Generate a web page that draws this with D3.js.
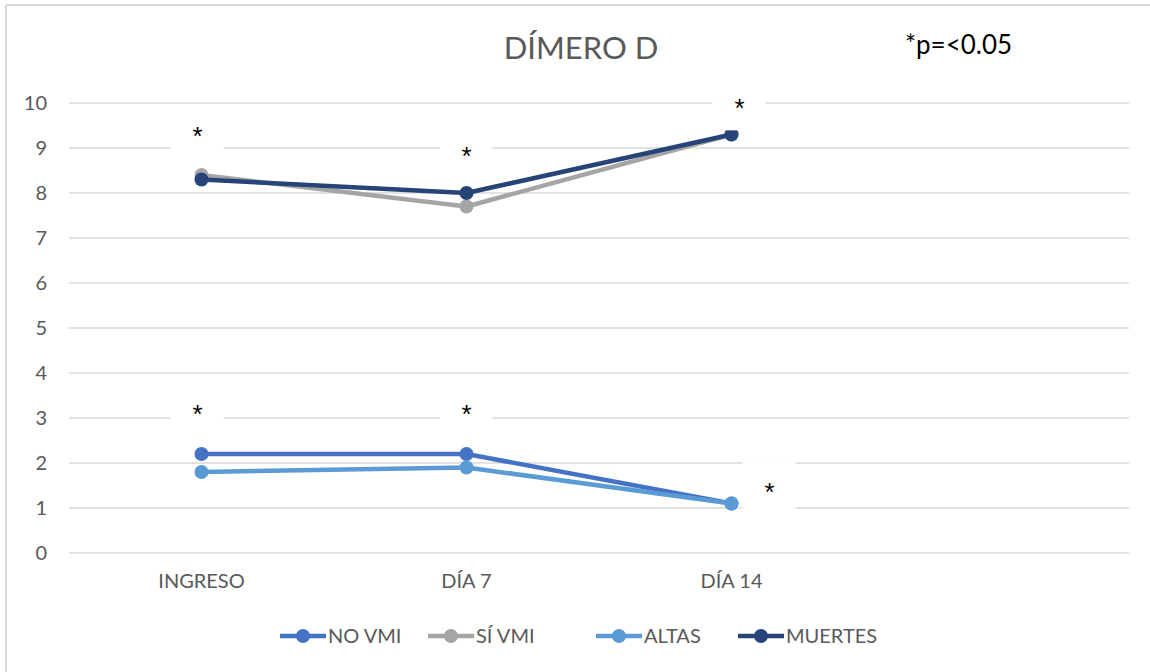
<!DOCTYPE html>
<html>
<head>
<meta charset="utf-8">
<script src="https://cdn.jsdelivr.net/npm/d3@7"></script>
<style>
  html, body { margin: 0; padding: 0; background: #fff; }
  svg { display: block; font-family: "Lato", "Liberation Sans", sans-serif; }
</style>
</head>
<body>
<svg id="chart" width="1150" height="672"></svg>
<script>
// ---- data ----
const categories = ["INGRESO", "DÍA 7", "DÍA 14", ""];
const seriesNames = ["NO VMI", "SÍ VMI", "ALTAS", "MUERTES"];
const noVmi   = [2.2, 2.2, 1.1];
const siVmi   = [8.4, 7.7, 9.3];
const altas   = [1.8, 1.9, 1.1];
const muertes = [8.3, 8.0, 9.3];
const seriesColors = ["#4472C4", "#A5A5A5", "#5B9BD5", "#264478"];
const yTicks = [0, 1, 2, 3, 4, 5, 6, 7, 8, 9, 10];
// significance markers: category, value level, horizontal nudge (px)
const starCats   = ["INGRESO", "DÍA 7", "DÍA 14", "INGRESO", "DÍA 7", "DÍA 14"];
const starValues = [9.36, 8.92, 9.97, 3.17, 3.17, 1.44];
const starNudge  = [-4, 0, 8, -4, 0, 38];
const titleText = "DÍMERO D";
const noteText = "*p=<0.05";

const series = seriesNames.map((n, i) => ({
  name: n, color: seriesColors[i],
  values: [noVmi, siVmi, altas, muertes][i]
}));

const svg = d3.select("#chart");
const margin = { left: 69, right: 21, top: 103, bottom: 119 };
const W = 1150, H = 672;

// border
svg.append("line").attr("x1", 6).attr("x2", 6).attr("y1", 5).attr("y2", H)
  .attr("stroke", "#d9d9d9").attr("stroke-width", 2);
svg.append("line").attr("x1", 6).attr("x2", W).attr("y1", 5).attr("y2", 5)
  .attr("stroke", "#d9d9d9").attr("stroke-width", 2);

const x = d3.scaleBand().domain(categories.map((c, i) => i))
  .range([margin.left, W - margin.right]);
const xc = i => x(i) + x.bandwidth() / 2;
const y = d3.scaleLinear().domain([0, 10]).range([H - margin.bottom, margin.top]);

// gridlines
svg.append("g").selectAll("line").data(yTicks).join("line")
  .attr("x1", margin.left).attr("x2", W - margin.right)
  .attr("y1", d => y(d)).attr("y2", d => y(d))
  .attr("stroke", "#d9d9d9").attr("stroke-width", 1.5);

// y axis labels
const yAxis = d3.axisLeft(y).tickValues(yTicks).tickSize(0).tickPadding(22);
const gy = svg.append("g").attr("transform", `translate(${margin.left},0)`).call(yAxis);
gy.select(".domain").remove();
gy.selectAll("text").attr("fill", "#595959").style("font-size", "20px")
  .style("font-family", "Lato, 'Liberation Sans', sans-serif");

// x axis labels
const xAxis = d3.axisBottom(x).tickFormat(i => categories[i]).tickSize(0).tickPadding(21);
const gx = svg.append("g").attr("transform", `translate(0,${y(0)})`).call(xAxis);
gx.select(".domain").remove();
gx.selectAll("text").attr("fill", "#595959").style("font-size", "20px")
  .style("font-family", "Lato, 'Liberation Sans', sans-serif");

// lines + markers
const line = d3.line().x((d, i) => xc(i)).y(d => y(d));
const gs = svg.append("g");
series.forEach(s => {
  gs.append("path").datum(s.values).attr("d", line)
    .attr("fill", "none").attr("stroke", s.color).attr("stroke-width", 4.5)
    .attr("stroke-linejoin", "round");
  gs.append("g").selectAll("circle").data(s.values).join("circle")
    .attr("cx", (d, i) => xc(i)).attr("cy", d => y(d)).attr("r", 7)
    .attr("fill", s.color);
});

// significance stars with white label boxes
const catIndex = c => categories.indexOf(c);
const gstar = svg.append("g");
starCats.forEach((c, k) => {
  const cx = xc(catIndex(c)) + starNudge[k];
  const cy = y(starValues[k]);
  gstar.append("rect").attr("x", cx - 27).attr("y", cy - 26)
    .attr("width", 53).attr("height", 52).attr("fill", "#fff");
  gstar.append("text").attr("x", cx).attr("y", cy + 13)
    .attr("text-anchor", "middle").attr("fill", "#000")
    .style("font-size", "26px").style("font-family", "'Liberation Sans', sans-serif")
    .text("*");
});

// title
svg.append("text").attr("x", 581).attr("y", 59).attr("text-anchor", "middle")
  .attr("fill", "#595959").style("font-size", "31px").text(titleText);
svg.append("text").attr("x", 905).attr("y", 54).attr("text-anchor", "start")
  .attr("fill", "#000").style("font-size", "26px").text(noteText);

// legend
const legX = [280, 428, 596, 738];
const lg = svg.append("g");
series.forEach((s, i) => {
  const g = lg.append("g").attr("transform", `translate(${legX[i]},636)`);
  g.append("line").attr("x1", 0).attr("x2", 46).attr("y1", 0).attr("y2", 0)
    .attr("stroke", s.color).attr("stroke-width", 4.5);
  g.append("circle").attr("cx", 23).attr("cy", 0).attr("r", 7).attr("fill", s.color);
  g.append("text").attr("x", 48).attr("y", 7).attr("fill", "#595959")
    .style("font-size", "20px").text(s.name);
});
</script>
</body>
</html>
